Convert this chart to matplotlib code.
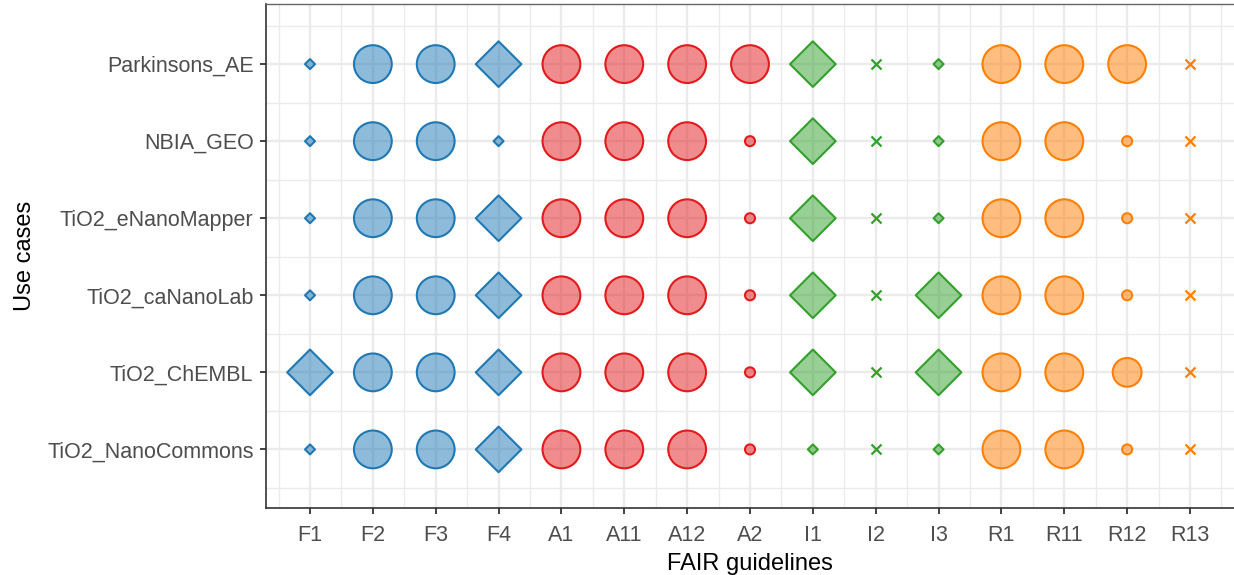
import numpy as np
import matplotlib.pyplot as plt

plt.rcParams['font.family'] = ['Liberation Sans', 'DejaVu Sans']

guidelines = ['F1', 'F2', 'F3', 'F4', 'A1', 'A11', 'A12', 'A2', 'I1', 'I2', 'I3',
              'R1', 'R11', 'R12', 'R13']
use_cases = ['TiO2_NanoCommons', 'TiO2_ChEMBL', 'TiO2_caNanoLab',
             'TiO2_eNanoMapper', 'NBIA_GEO', 'Parkinsons_AE']
# marker per guideline: D = diamond, o = circle, x = cross
shapes = ['D', 'o', 'o', 'D', 'o', 'o', 'o', 'o', 'D', 'x', 'D', 'o', 'o', 'o', 'x']
# principle group of each guideline
groups = ['F'] * 4 + ['A'] * 4 + ['I'] * 3 + ['R'] * 4
# score per use case (rows, bottom to top) and guideline: 0 none, 1 low, 2 mid, 3 high
scores = np.array([
    [1, 3, 3, 3, 3, 3, 3, 1, 1, 0, 1, 3, 3, 1, 0],  # TiO2_NanoCommons
    [3, 3, 3, 3, 3, 3, 3, 1, 3, 0, 3, 3, 3, 2, 0],  # TiO2_ChEMBL
    [1, 3, 3, 3, 3, 3, 3, 1, 3, 0, 3, 3, 3, 1, 0],  # TiO2_caNanoLab
    [1, 3, 3, 3, 3, 3, 3, 1, 3, 0, 1, 3, 3, 1, 0],  # TiO2_eNanoMapper
    [1, 3, 3, 1, 3, 3, 3, 1, 3, 0, 1, 3, 3, 1, 0],  # NBIA_GEO
    [1, 3, 3, 3, 3, 3, 3, 3, 3, 0, 1, 3, 3, 3, 0],  # Parkinsons_AE
])

colors = {'F': '#1F78B4', 'A': '#E31A1C', 'I': '#33A02C', 'R': '#FF7F00'}
size_map = {
    'o': {1: 52, 2: 430, 3: 740},
    'D': {1: 26, 2: 300, 3: 540},
}

fig = plt.figure(figsize=(12.34, 5.75), dpi=100)
ax = fig.add_axes([266 / 1234, 1 - 508 / 575, 1 - 266 / 1234, 504 / 575])

for j, g in enumerate(guidelines):
    c = colors[groups[j]]
    m = shapes[j]
    for i in range(len(use_cases)):
        v = scores[i, j]
        if m == 'x':
            ax.scatter(j, i, s=52, marker='x', color=c, linewidths=1.6, zorder=3)
        else:
            ax.scatter(j, i, s=size_map[m][v], marker=m, facecolor=c, alpha=0.5,
                       edgecolor='none', zorder=3)
            ax.scatter(j, i, s=size_map[m][v], marker=m, facecolor='none',
                       edgecolor=c, linewidths=1.5, zorder=4)

ax.set_xlim(-0.7, len(guidelines) - 0.3)
ax.set_ylim(-0.76, len(use_cases) - 0.22)
ax.set_xticks(range(len(guidelines)))
ax.set_xticklabels(guidelines)
ax.set_yticks(range(len(use_cases)))
ax.set_yticklabels(use_cases)
ax.set_xticks(np.arange(-0.5, len(guidelines), 1), minor=True)
ax.set_yticks(np.arange(-0.5, len(use_cases), 1), minor=True)
ax.grid(which='major', color='#EBEBEB', linewidth=1.7, zorder=0)
ax.grid(which='minor', color='#EBEBEB', linewidth=1.0, zorder=0)
ax.set_axisbelow(True)
ax.tick_params(which='minor', length=0)
ax.tick_params(which='major', length=4, width=1.3, color='#333333',
               labelsize=15.5, labelcolor='#4D4D4D', pad=5)
ax.tick_params(axis='x', pad=8)

for s in ['left', 'bottom']:
    ax.spines[s].set_color('#333333')
    ax.spines[s].set_linewidth(1.2)
ax.spines['top'].set_color('#666666')
ax.spines['top'].set_linewidth(1.0)
ax.spines['right'].set_visible(False)

ax.set_xlabel('FAIR guidelines', fontsize=17, labelpad=5)
ax.set_ylabel('Use cases', fontsize=17, labelpad=8)

fig.savefig('out.png', dpi=100)
